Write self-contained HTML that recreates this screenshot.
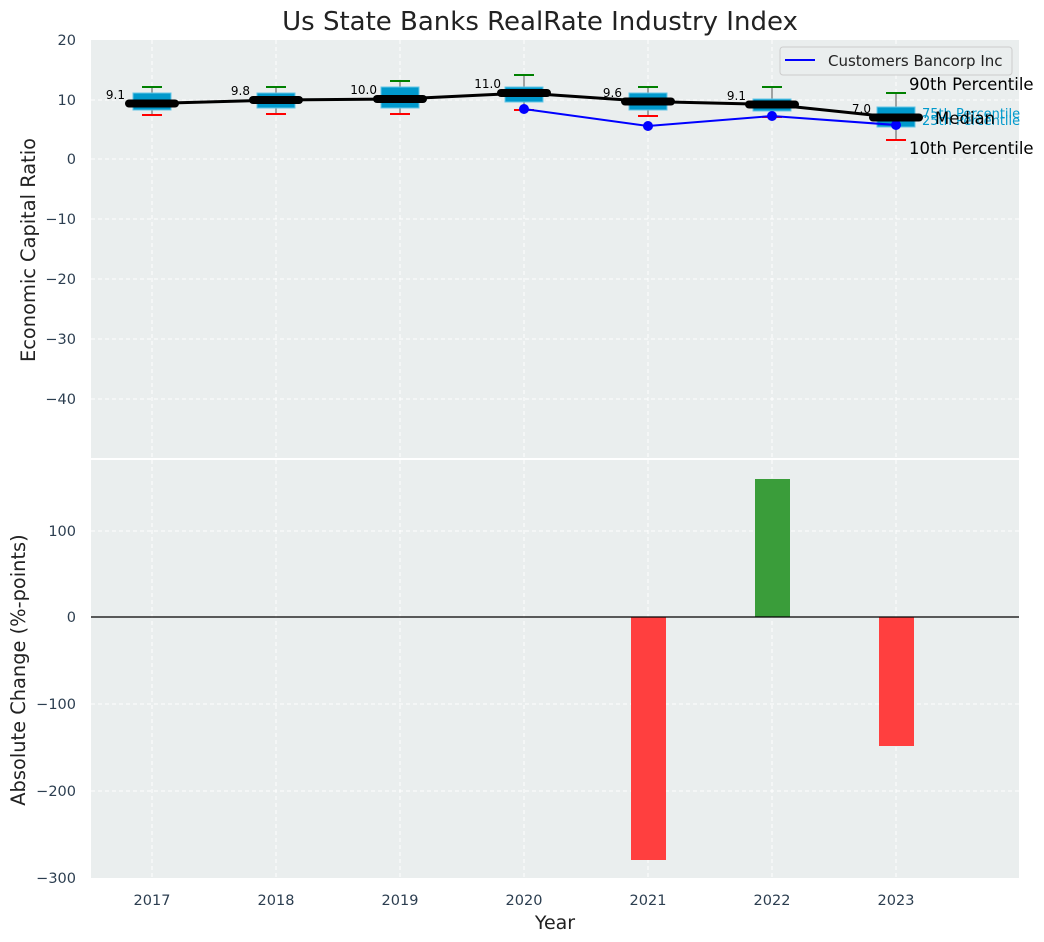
<!DOCTYPE html>
<html><head><meta charset="utf-8"><style>body{margin:0;background:#fff}svg{display:block;font-family:"DejaVu Sans","Liberation Sans",sans-serif}</style></head>
<body>
<svg width="1044" height="942" viewBox="0 0 1044 942" xmlns="http://www.w3.org/2000/svg">
<rect width="1044" height="942" fill="#fff"/>
<text x="540" y="30" font-size="26" text-anchor="middle" fill="#222">Us State Banks RealRate Industry Index</text>
<!-- top axes -->
<rect x="91" y="40" width="928" height="418" fill="#eaeeee"/>
<g stroke="#fff" stroke-dasharray="4,3" stroke-width="1">
<line x1="91" y1="100" x2="1019" y2="100"/><line x1="91" y1="159" x2="1019" y2="159"/><line x1="91" y1="219" x2="1019" y2="219"/><line x1="91" y1="279" x2="1019" y2="279"/><line x1="91" y1="339" x2="1019" y2="339"/><line x1="91" y1="399" x2="1019" y2="399"/>
<line x1="152" y1="40" x2="152" y2="458"/><line x1="276" y1="40" x2="276" y2="458"/><line x1="400" y1="40" x2="400" y2="458"/><line x1="524" y1="40" x2="524" y2="458"/><line x1="648" y1="40" x2="648" y2="458"/><line x1="772" y1="40" x2="772" y2="458"/><line x1="896" y1="40" x2="896" y2="458"/>
</g>
<g font-size="14.5" fill="#2c3e50" text-anchor="end">
<text x="76" y="45">20</text><text x="76" y="105">10</text><text x="76" y="164">0</text><text x="76" y="224">−10</text><text x="76" y="284">−20</text><text x="76" y="344">−30</text><text x="76" y="404">−40</text>
</g>
<text transform="translate(35,250) rotate(-90)" font-size="19.4" text-anchor="middle" fill="#222">Economic Capital Ratio</text>
<!-- boxes -->
<g stroke="#555" stroke-width="1">
<line x1="152" y1="87" x2="152" y2="115"/><line x1="276" y1="87" x2="276" y2="114"/><line x1="400" y1="81" x2="400" y2="114"/><line x1="524" y1="75" x2="524" y2="110"/><line x1="648" y1="87" x2="648" y2="116"/><line x1="772" y1="87" x2="772" y2="117"/><line x1="896" y1="93" x2="896" y2="140"/>
</g>
<g fill="#0099cc" stroke="#66c6e6" stroke-width="1">
<rect x="133" y="93" width="38" height="17"/><rect x="257" y="93" width="38" height="15"/><rect x="381" y="87" width="38" height="21"/><rect x="505" y="87" width="38" height="15"/><rect x="629" y="93" width="38" height="17"/><rect x="753" y="99" width="38" height="12"/><rect x="877" y="107" width="38" height="20"/>
</g>
<g stroke="#008000" stroke-width="2">
<line x1="142" y1="87" x2="162" y2="87"/><line x1="266" y1="87" x2="286" y2="87"/><line x1="390" y1="81" x2="410" y2="81"/><line x1="514" y1="75" x2="534" y2="75"/><line x1="638" y1="87" x2="658" y2="87"/><line x1="762" y1="87" x2="782" y2="87"/><line x1="886" y1="93" x2="906" y2="93"/>
</g>
<g stroke="#ff0000" stroke-width="2">
<line x1="142" y1="115" x2="162" y2="115"/><line x1="266" y1="114" x2="286" y2="114"/><line x1="390" y1="114" x2="410" y2="114"/><line x1="514" y1="110" x2="534" y2="110"/><line x1="638" y1="116" x2="658" y2="116"/><line x1="762" y1="117" x2="782" y2="117"/><line x1="886" y1="140" x2="906" y2="140"/>
</g>
<polyline points="524,109 648,126 772,116 896,125" fill="none" stroke="#0000ff" stroke-width="2"/>
<g fill="#0000ff"><circle cx="524" cy="109" r="5"/><circle cx="648" cy="126" r="5"/><circle cx="772" cy="116" r="5"/><circle cx="896" cy="125" r="5"/></g>
<polyline points="152,103.5 276,100 400,99 524,93 648,101.5 772,104.5 896,117.5" fill="none" stroke="#000" stroke-width="3"/>
<g stroke="#000" stroke-width="8" stroke-linecap="round">
<line x1="129" y1="103.5" x2="175" y2="103.5"/><line x1="253" y1="100" x2="299" y2="100"/><line x1="377" y1="99" x2="423" y2="99"/><line x1="501" y1="93" x2="547" y2="93"/><line x1="625" y1="101.5" x2="671" y2="101.5"/><line x1="749" y1="104.5" x2="795" y2="104.5"/><line x1="873" y1="117.5" x2="919" y2="117.5"/>
</g>
<g font-size="12" fill="#000" text-anchor="end">
<text x="125" y="99">9.1</text><text x="250" y="95">9.8</text><text x="377" y="94">10.0</text><text x="501" y="88">11.0</text><text x="622" y="97">9.6</text><text x="746" y="100">9.1</text><text x="871" y="113">7.0</text>
</g>
<text x="922" y="118" font-size="13" fill="#0099cc">75th Percentile</text>
<text x="922" y="125" font-size="13" fill="#0099cc">25th Percentile</text>
<text x="909" y="90" font-size="16.5" fill="#000">90th Percentile</text>
<text x="935" y="124" font-size="16.5" fill="#000">Median</text>
<text x="909" y="154" font-size="16.5" fill="#000">10th Percentile</text>
<rect x="780" y="47" width="232" height="28" rx="3" fill="#eaeeee" stroke="#ccc"/>
<line x1="785" y1="60" x2="815" y2="60" stroke="#0000ff" stroke-width="2"/>
<text x="828" y="66" font-size="15" fill="#222">Customers Bancorp Inc</text>
<!-- bottom axes -->
<rect x="91" y="460" width="928" height="418" fill="#eaeeee"/>
<g stroke="#fff" stroke-dasharray="4,3" stroke-width="1">
<line x1="91" y1="531" x2="1019" y2="531"/><line x1="91" y1="704" x2="1019" y2="704"/><line x1="91" y1="791" x2="1019" y2="791"/>
<line x1="152" y1="460" x2="152" y2="878"/><line x1="276" y1="460" x2="276" y2="878"/><line x1="400" y1="460" x2="400" y2="878"/><line x1="524" y1="460" x2="524" y2="878"/><line x1="648" y1="460" x2="648" y2="878"/><line x1="772" y1="460" x2="772" y2="878"/><line x1="896" y1="460" x2="896" y2="878"/>
</g>
<rect x="631" y="617" width="35" height="243" fill="#ff3f3f"/>
<rect x="755" y="479" width="35" height="138" fill="#3a9d3a"/>
<rect x="879" y="617" width="35" height="129" fill="#ff3f3f"/>
<line x1="91" y1="617" x2="1019" y2="617" stroke="#000" stroke-width="1.2"/>
<g font-size="14.5" fill="#2c3e50" text-anchor="end">
<text x="76" y="536">100</text><text x="76" y="622">0</text><text x="76" y="709">−100</text><text x="76" y="796">−200</text><text x="76" y="883">−300</text>
</g>
<text transform="translate(25,670) rotate(-90)" font-size="19.4" text-anchor="middle" fill="#222">Absolute Change (%-points)</text>
<g font-size="14.5" fill="#2c3e50" text-anchor="middle">
<text x="152" y="905">2017</text><text x="276" y="905">2018</text><text x="400" y="905">2019</text><text x="524" y="905">2020</text><text x="648" y="905">2021</text><text x="772" y="905">2022</text><text x="896" y="905">2023</text>
</g>
<text x="555" y="929" font-size="19" text-anchor="middle" fill="#222">Year</text>
</svg>
</body></html>
